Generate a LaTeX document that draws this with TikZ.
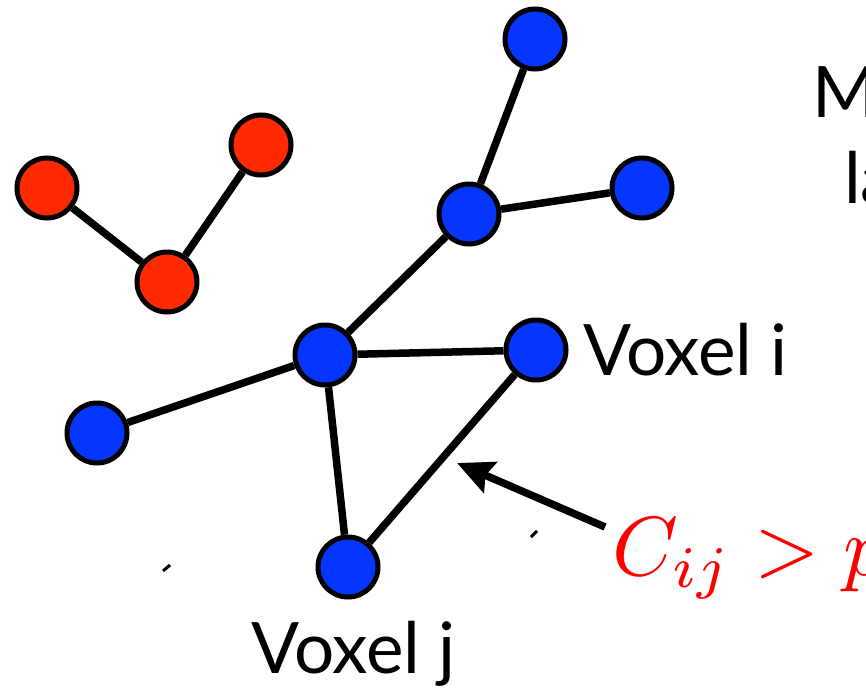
\documentclass[tikz,border=0pt]{standalone}
\usepackage{fontspec}
\setmainfont{Lato}
\usetikzlibrary{arrows.meta}
\definecolor{nodered}{RGB}{255,42,0}
\definecolor{nodeblue}{RGB}{5,54,255}
\definecolor{labelred}{RGB}{255,0,0}
\begin{document}
\begin{tikzpicture}[x=1pt,y=-1pt,
  vox/.style={circle,draw=black,line width=5pt,minimum size=60pt,inner sep=0pt},
  rvox/.style={vox,fill=nodered},
  bvox/.style={vox,fill=nodeblue},
  link/.style={line width=7.5pt},
  lbl/.style={inner sep=0pt,anchor=base west,font=\fontsize{71}{80}\selectfont},
  tick/.style={line width=3pt}
]
\useasboundingbox (0,0) rectangle (866,688);
% red cluster
\node[rvox] (r1) at (47,188) {};
\node[rvox] (r2) at (167,282) {};
\node[rvox] (r3) at (261,145) {};
% blue cluster
\node[bvox] (btop) at (535,39) {};
\node[bvox] (bmid) at (469,214) {};
\node[bvox] (bright) at (642,188) {};
\node[bvox] (hub) at (325,355) {};
\node[bvox] (vi) at (536,350) {};
\node[bvox] (bleft) at (97,433) {};
\node[bvox] (vj) at (348,567) {};
% edges
\draw[link] (r1) -- (r2);
\draw[link] (r2) -- (r3);
\draw[link] (btop) -- (bmid);
\draw[link] (bmid) -- (bright);
\draw[link] (bmid) -- (hub);
\draw[link] (hub) -- (vi);
\draw[link] (hub) -- (bleft);
\draw[link] (hub) -- (vj);
\draw[link] (vi) -- (vj);
% labels
\node[lbl] (li) at (583,375) {Voxel i};
\node[lbl] (lj) at (251,673) {Voxel j};
\node[lbl] (tm) at (812,117) {M};
\node[lbl] (tla) at (844,203) {la};
\node[inner sep=0pt,anchor=base west,text=labelred] (cond) at (612,575) {\scalebox{8.4}{$C_{ij} > p$}};
% arrow
\coordinate (atail) at (605,527);
\coordinate (atip) at (457,463);
\draw[link,-{Stealth[length=36pt,width=33pt,inset=5pt]}] (atail) -- (atip);
% small ticks
\coordinate (t1a) at (163,571); \coordinate (t1b) at (170,565);
\coordinate (t2a) at (531,537); \coordinate (t2b) at (537,531);
\draw[tick] (t1a) -- (t1b);
\draw[tick] (t2a) -- (t2b);
\end{tikzpicture}
\end{document}
